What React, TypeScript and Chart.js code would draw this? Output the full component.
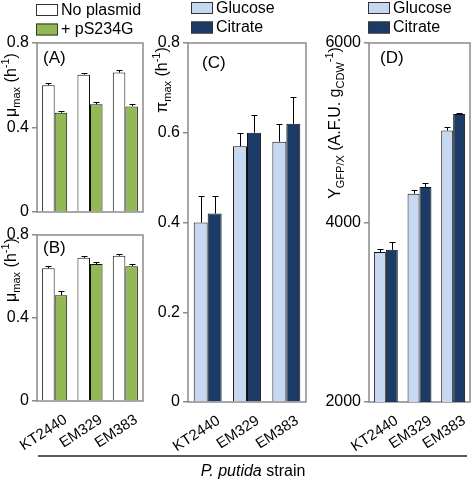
import React, { useEffect, useRef } from "react";
import { Chart, registerables } from "chart.js";

Chart.register(...registerables);

// ---------- data ----------
const strains = ["KT2440", "EM329", "EM383"];

const muA_noPlasmid = [0.6, 0.65, 0.66];
const muA_noPlasmidErr = [0.01, 0.01, 0.01];
const muA_pS234G = [0.47, 0.51, 0.5];
const muA_pS234GErr = [0.01, 0.01, 0.01];

const muB_noPlasmid = [0.64, 0.69, 0.7];
const muB_noPlasmidErr = [0.01, 0.01, 0.01];
const muB_pS234G = [0.51, 0.66, 0.65];
const muB_pS234GErr = [0.02, 0.01, 0.01];

const piGlucose = [0.4, 0.57, 0.58];
const piGlucoseErr = [0.06, 0.03, 0.04];
const piCitrate = [0.42, 0.6, 0.62];
const piCitrateErr = [0.04, 0.04, 0.06];

const yGlucose = [3670, 4320, 5025];
const yGlucoseErr = [30, 40, 40];
const yCitrate = [3695, 4395, 5210];
const yCitrateErr = [90, 50, 15];

const muTicks = [0, 0.4, 0.8];
const piTicks = [0, 0.2, 0.4, 0.6, 0.8];
const yTicks = [2000, 4000, 6000];

// ---------- styles ----------
const FONT = "'Liberation Sans', Arial, sans-serif";
const W = 472;
const H = 481;
const WHITE = "#ffffff";
const GREEN = "#93b954";
const LIGHT = "#c6d9f1";
const NAVY = "#1c3a66";
const FRAME = "#8a8a8a";

type Piece = { t: string; k?: "n" | "sub" | "sup"; italic?: boolean };

type PanelCfg = {
  area: { left: number; top: number; right: number; bottom: number };
  yw: number;
  min: number;
  max: number;
  ticks: number[];
  showX: boolean;
  series: { label: string; data: number[]; err: number[]; color: string }[];
  panelLabel: string;
  panelLabelPos: [number, number];
  yTitle: Piece[];
  yTitlePos: [number, number];
  legendPos?: [number, number];
  extra?: boolean;
};

function drawPieces(ctx: CanvasRenderingContext2D, pieces: Piece[], size: number, cx: number, cy: number, rotate: boolean) {
  const fontFor = (p: Piece) => {
    const s = p.k === "sub" || p.k === "sup" ? Math.round(size * 0.68) : size;
    return `${p.italic ? "italic " : ""}${s}px ${FONT}`;
  };
  let total = 0;
  const widths: number[] = [];
  for (const p of pieces) {
    ctx.font = fontFor(p);
    const w = ctx.measureText(p.t).width;
    widths.push(w);
    total += w;
  }
  ctx.save();
  ctx.translate(cx, cy);
  if (rotate) ctx.rotate(-Math.PI / 2);
  ctx.fillStyle = "#000";
  ctx.textBaseline = "middle";
  ctx.textAlign = "left";
  let x = -total / 2;
  pieces.forEach((p, i) => {
    ctx.font = fontFor(p);
    const dy = p.k === "sub" ? size * 0.3 : p.k === "sup" ? -size * 0.35 : 0;
    ctx.fillText(p.t, x, dy);
    x += widths[i];
  });
  ctx.restore();
}

function makeDecor(cfg: PanelCfg) {
  return {
    id: "decor",
    beforeDatasetsDraw(chart: any) {
      const { ctx, chartArea } = chart;
      ctx.save();
      ctx.strokeStyle = FRAME;
      ctx.lineWidth = 1.5;
      ctx.strokeRect(chartArea.left, chartArea.top, chartArea.right - chartArea.left, chartArea.bottom - chartArea.top);
      ctx.restore();
    },
    afterDatasetsDraw(chart: any) {
      const { ctx } = chart;
      const yScale = chart.scales.y;
      ctx.save();
      ctx.strokeStyle = "#000";
      ctx.lineWidth = 1;
      cfg.series.forEach((s, di) => {
        const meta = chart.getDatasetMeta(di);
        meta.data.forEach((bar: any, i: number) => {
          const top = yScale.getPixelForValue(s.data[i] + s.err[i]);
          const base = yScale.getPixelForValue(s.data[i]);
          const x = Math.round(bar.x) + 0.5;
          ctx.beginPath();
          ctx.moveTo(x, base);
          ctx.lineTo(x, Math.round(top) + 0.5);
          ctx.moveTo(x - 3, Math.round(top) + 0.5);
          ctx.lineTo(x + 3, Math.round(top) + 0.5);
          ctx.stroke();
        });
      });
      ctx.restore();
    },
    afterDraw(chart: any) {
      const { ctx } = chart;
      ctx.save();
      // panel label
      ctx.fillStyle = "#000";
      ctx.font = `17px ${FONT}`;
      ctx.textAlign = "left";
      ctx.textBaseline = "middle";
      ctx.fillText(cfg.panelLabel, cfg.panelLabelPos[0], cfg.panelLabelPos[1]);
      // y title
      drawPieces(ctx, cfg.yTitle, 16, cfg.yTitlePos[0], cfg.yTitlePos[1], true);
      // legend
      if (cfg.legendPos) {
        const [lx, ly] = cfg.legendPos;
        cfg.series.forEach((s, i) => {
          const by = ly + i * 19.5;
          ctx.fillStyle = s.color;
          ctx.fillRect(lx, by, 22, 12);
          ctx.strokeStyle = "#333";
          ctx.lineWidth = 1;
          ctx.strokeRect(lx + 0.5, by + 0.5, 21, 11);
          ctx.fillStyle = "#000";
          ctx.font = `16px ${FONT}`;
          ctx.textBaseline = "middle";
          ctx.fillText(s.label, lx + 25, by + 6.5);
        });
      }
      if (cfg.extra) {
        ctx.strokeStyle = "#222";
        ctx.lineWidth = 1.5;
        ctx.beginPath();
        ctx.moveTo(38, 456);
        ctx.lineTo(467, 456);
        ctx.stroke();
        drawPieces(ctx, [{ t: "P. putida", italic: true }, { t: " strain" }], 16, 253, 472, false);
      }
      ctx.restore();
    },
  };
}

const X_H_LABELS = 62;
const X_H_NONE = 4;

function Panel({ cfg }: { cfg: PanelCfg }) {
  const ref = useRef<HTMLCanvasElement | null>(null);
  useEffect(() => {
    if (!ref.current) return;
    const a = cfg.area;
    const xh = cfg.showX ? X_H_LABELS : X_H_NONE;
    const chart = new Chart(ref.current, {
      type: "bar",
      data: {
        labels: strains,
        datasets: cfg.series.map((s) => ({
          label: s.label,
          data: s.data,
          backgroundColor: s.color,
          borderColor: "#111",
          borderWidth: 1,
          barPercentage: 1,
          categoryPercentage: 0.71,
        })),
      },
      options: {
        responsive: false,
        animation: false,
        devicePixelRatio: 1,
        layout: {
          padding: {
            left: a.left - cfg.yw,
            top: a.top,
            right: W - a.right,
            bottom: H - a.bottom - xh,
          },
        },
        plugins: { legend: { display: false }, tooltip: { enabled: false } },
        scales: {
          x: {
            afterFit: (s: any) => {
              s.height = xh;
            },
            grid: { display: false },
            border: { display: false },
            ticks: {
              display: cfg.showX,
              autoSkip: false,
              minRotation: 33,
              maxRotation: 33,
              color: "#000",
              font: { family: FONT, size: 15 },
              padding: 2,
              labelOffset: 11,
            },
          },
          y: {
            min: cfg.min,
            max: cfg.max,
            afterFit: (s: any) => {
              s.width = cfg.yw;
            },
            afterBuildTicks: (s: any) => {
              s.ticks = cfg.ticks.map((v) => ({ value: v }));
            },
            grid: { drawOnChartArea: false, drawTicks: true, tickLength: 5, color: FRAME, lineWidth: 1.5 },
            border: { display: false },
            ticks: {
              color: "#000",
              font: { family: FONT, size: 16 },
              padding: 3,
              callback: (v: any) => String(v),
            },
          },
        },
      },
      plugins: [makeDecor(cfg) as any],
    });
    return () => chart.destroy();
  }, [cfg]);
  return (
    <canvas
      ref={ref}
      width={W}
      height={H}
      style={{ position: "absolute", left: 0, top: 0, width: W, height: H }}
    />
  );
}

const panels: PanelCfg[] = [
  {
    area: { left: 37, top: 43, right: 143, bottom: 212 },
    yw: 37,
    min: 0,
    max: 0.8,
    ticks: muTicks,
    showX: false,
    series: [
      { label: "No plasmid", data: muA_noPlasmid, err: muA_noPlasmidErr, color: WHITE },
      { label: "+ pS234G", data: muA_pS234G, err: muA_pS234GErr, color: GREEN },
    ],
    panelLabel: "(A)",
    panelLabelPos: [43, 58],
    yTitle: [{ t: "μ" }, { t: "max", k: "sub" }, { t: " (h" }, { t: "-1", k: "sup" }, { t: ")" }],
    yTitlePos: [12, 85],
    legendPos: [36, 4],
  },
  {
    area: { left: 37, top: 235, right: 143, bottom: 401 },
    yw: 37,
    min: 0,
    max: 0.8,
    ticks: muTicks,
    showX: true,
    series: [
      { label: "No plasmid", data: muB_noPlasmid, err: muB_noPlasmidErr, color: WHITE },
      { label: "+ pS234G", data: muB_pS234G, err: muB_pS234GErr, color: GREEN },
    ],
    panelLabel: "(B)",
    panelLabelPos: [43, 248],
    yTitle: [{ t: "μ" }, { t: "max", k: "sub" }, { t: " (h" }, { t: "-1", k: "sup" }, { t: ")" }],
    yTitlePos: [12, 270],
  },
  {
    area: { left: 188, top: 43, right: 306, bottom: 402 },
    yw: 42,
    min: 0,
    max: 0.8,
    ticks: piTicks,
    showX: true,
    series: [
      { label: "Glucose", data: piGlucose, err: piGlucoseErr, color: LIGHT },
      { label: "Citrate", data: piCitrate, err: piCitrateErr, color: NAVY },
    ],
    panelLabel: "(C)",
    panelLabelPos: [202, 63],
    yTitle: [{ t: "π" }, { t: "max", k: "sub" }, { t: " (h" }, { t: "-1", k: "sup" }, { t: ")" }],
    yTitlePos: [163, 80],
    legendPos: [191, 2],
  },
  {
    area: { left: 369, top: 43, right: 470, bottom: 402 },
    yw: 50,
    min: 2000,
    max: 6000,
    ticks: yTicks,
    showX: true,
    series: [
      { label: "Glucose", data: yGlucose, err: yGlucoseErr, color: LIGHT },
      { label: "Citrate", data: yCitrate, err: yCitrateErr, color: NAVY },
    ],
    panelLabel: "(D)",
    panelLabelPos: [380, 58],
    yTitle: [
      { t: "Y" },
      { t: "GFP/X", k: "sub" },
      { t: " (A.F.U. g" },
      { t: "CDW", k: "sub" },
      { t: "-1", k: "sup" },
      { t: ")" },
    ],
    yTitlePos: [336, 123],
    legendPos: [368, 2],
    extra: true,
  },
];

export default function App() {
  return (
    <div style={{ position: "fixed", left: 0, top: 0, width: W, height: H, background: "#fff" }}>
      {panels.map((p, i) => (
        <Panel key={i} cfg={p} />
      ))}
    </div>
  );
}
